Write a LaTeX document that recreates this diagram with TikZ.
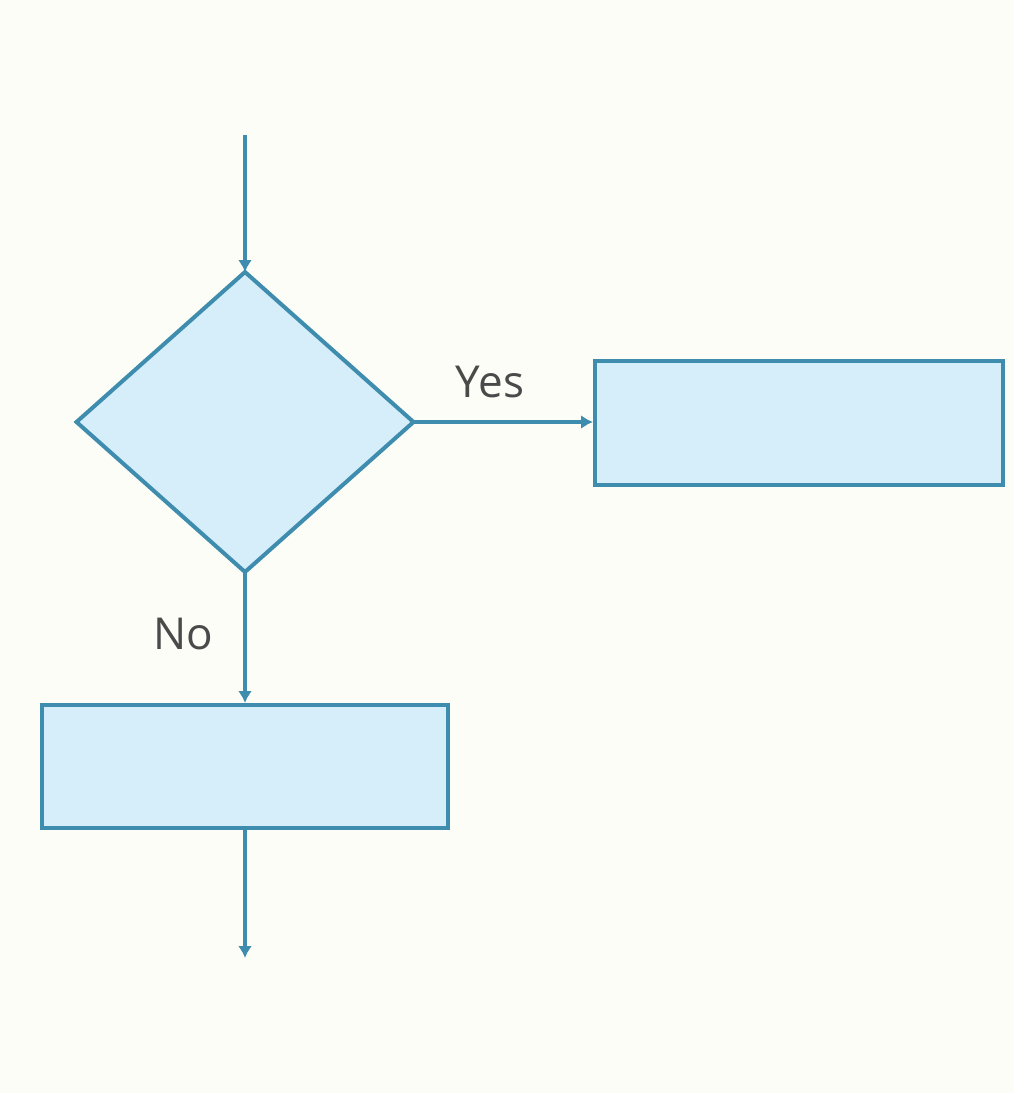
\documentclass[tikz,border=0pt]{standalone}
\usepackage{fontspec}
\setmainfont{Open Sans}
\usetikzlibrary{shapes.geometric,arrows.meta}
\definecolor{bg}{HTML}{FDFDF7}
\definecolor{edge}{HTML}{3E8CAE}
\definecolor{boxfill}{HTML}{D6EEFA}
\definecolor{txt}{HTML}{4A4A4A}
\tikzset{
  flowbox/.style={rectangle,draw=edge,fill=boxfill,line width=4pt,inner sep=0pt},
  decision/.style={diamond,draw=edge,fill=boxfill,line width=4pt,inner sep=0pt,outer sep=0pt},
  conn/.style={draw=edge,line width=4.5pt,-{Latex[length=12pt,width=14pt]}},
  lbl/.style={text=txt,font=\fontsize{44}{50}\selectfont,inner sep=0pt}
}
\begin{document}
\begin{tikzpicture}[x=1pt,y=-1pt]
\fill[bg] (0,0) rectangle (1014,1093);
\useasboundingbox (0,0) rectangle (1014,1093);
\coordinate (start) at (245,135);
\coordinate (stop) at (245,958);
\node[decision,minimum width=337pt,minimum height=300pt] (dec) at (245,422) {};
\node[flowbox,minimum width=408pt,minimum height=124pt] (yesbox) at (799,423) {};
\node[flowbox,minimum width=406pt,minimum height=123pt] (nobox) at (245,766.5) {};
\draw[conn] (start) -- (dec.north);
\draw[conn] (dec.east) -- (dec.east -| yesbox.west);
\draw[conn] (dec.south) -- (nobox.north);
\draw[conn] (nobox.south) -- (stop);
\node[lbl] (yes) at (490,382) {Yes};
\node[lbl] (no) at (183,634) {No};
\end{tikzpicture}
\end{document}
